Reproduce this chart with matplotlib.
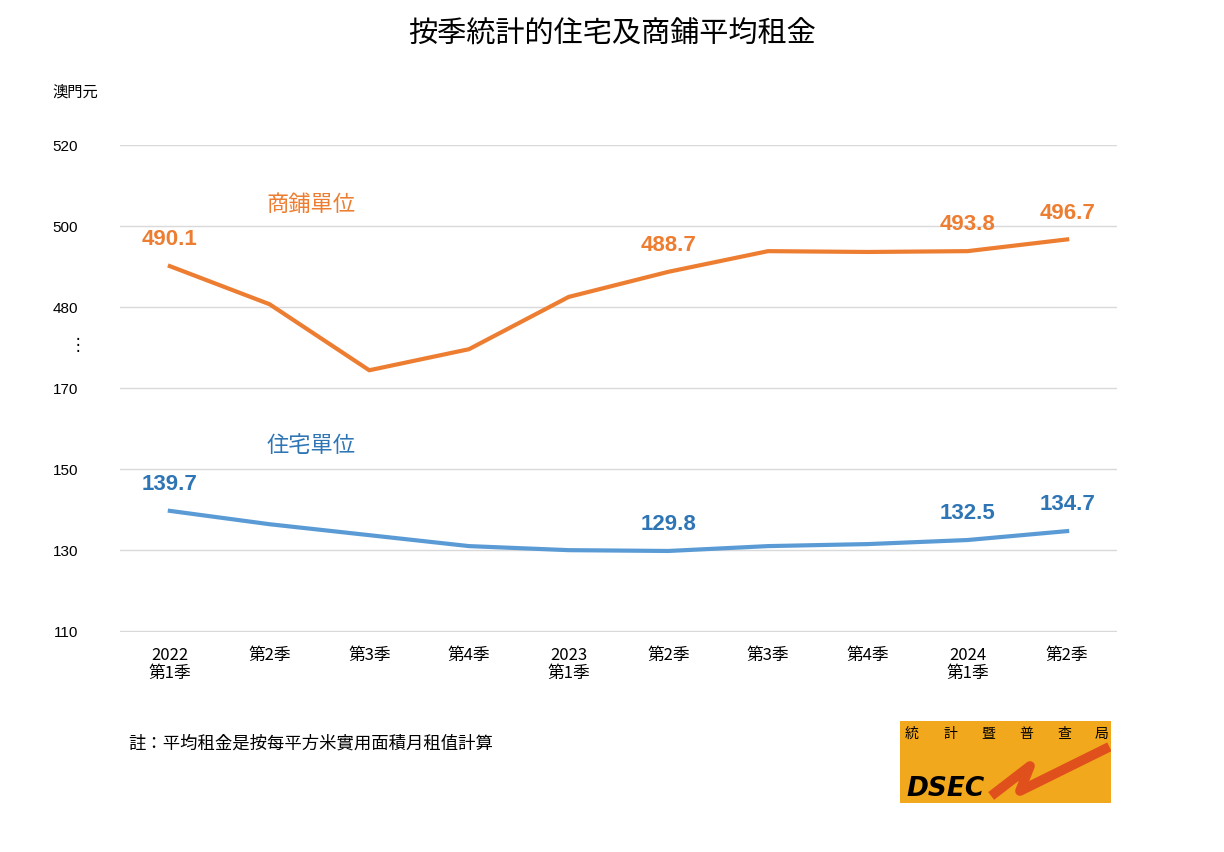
import matplotlib
matplotlib.use("Agg")
import matplotlib.pyplot as plt
from matplotlib.patches import Rectangle
from matplotlib import font_manager as fm

names = {f.name for f in fm.fontManager.ttflist}
cjk = next((n for n in ["Noto Sans CJK TC", "Noto Sans CJK SC", "Noto Sans CJK JP", "Noto Sans CJK KR"] if n in names), "DejaVu Sans")
plt.rcParams["font.family"] = [cjk, "DejaVu Sans"]

categories = ["2022\n第1季", "第2季", "第3季", "第4季", "2023\n第1季", "第2季", "第3季", "第4季", "2024\n第1季", "第2季"]
shop = [490.1, 480.7, 464.4, 469.6, 482.5, 488.7, 493.8, 493.6, 493.8, 496.7]
resi = [139.7, 136.4, 133.7, 131.0, 130.0, 129.8, 131.0, 131.5, 132.5, 134.7]
shop_labels = {0: "490.1", 5: "488.7", 8: "493.8", 9: "496.7"}
resi_labels = {0: "139.7", 5: "129.8", 8: "132.5", 9: "134.7"}
tick_pos = [110, 130, 150, 170, 190, 210, 230]
tick_txt = ["110", "130", "150", "170", "480", "500", "520"]
OFFSET = 290  # shop values drawn on compressed (broken) scale

ORANGE = "#ED7D31"
BLUE = "#5B9BD5"
BLUE_T = "#2E75B6"

fig = plt.figure(figsize=(12.24, 8.52), dpi=100)
ax = fig.add_axes([120/1224, 1-632/852, 997/1224, 487/852])
x = list(range(len(categories)))
ax.plot(x, [v - OFFSET for v in shop], color=ORANGE, lw=3)
ax.plot(x, resi, color=BLUE, lw=3)
for i, t in shop_labels.items():
    ax.text(i, shop[i] - OFFSET + 6.5, t, color=ORANGE, ha="center", va="center", fontsize=16, fontweight="bold", family="Liberation Sans")
for i, t in resi_labels.items():
    ax.text(i, resi[i] + 6.5, t, color=BLUE_T, ha="center", va="center", fontsize=16, fontweight="bold", family="Liberation Sans")
ax.text(0.97, 215.4, "商鋪單位", color=ORANGE, fontsize=16, va="center")
ax.text(0.97, 155.9, "住宅單位", color=BLUE_T, fontsize=16, va="center")

ax.set_xlim(-0.5, 9.5)
ax.set_ylim(109.8, 230)
ax.set_yticks(tick_pos)
ax.set_yticklabels(tick_txt, fontsize=11, family="Liberation Sans")
ax.tick_params(axis="y", length=0, pad=30)
ax.set_xticks(x)
ax.set_xticklabels(categories, fontsize=12, linespacing=1.05)
ax.tick_params(axis="x", length=0, pad=11)
ax.grid(axis="y", color="#D9D9D9", lw=1)
for s in ax.spines.values():
    s.set_visible(False)
ax.set_axisbelow(True)

fig.text(78/1224, 1-345/852, "⋮", fontsize=12, ha="center", va="center", family="DejaVu Sans")
fig.text(75/1224, 1-92/852, "澳門元", fontsize=11, ha="center", va="center")
fig.text(612/1224, 1-35/852, "按季統計的住宅及商鋪平均租金", fontsize=21, ha="center", va="center")
fig.text(128/1224, 1-744/852, "註：平均租金是按每平方米實用面積月租值計算", fontsize=12.5, va="center")

lax = fig.add_axes([900/1224, 1-803/852, 211/1224, 82/852])
lax.set_xlim(0, 211); lax.set_ylim(82, 0); lax.axis("off")
lax.add_patch(Rectangle((0, 0), 211, 82, color="#F2A81D"))
for i, ch in enumerate("統計暨普查局"):
    lax.text(12 + i*38, 13, ch, fontsize=10, ha="center", va="center")
lax.plot([95, 130, 120, 205], [72, 45, 70, 28], color="#E0501C", lw=7)
lax.text(6, 68, "DSEC", fontsize=19, fontweight="bold", style="italic", va="center", family="DejaVu Sans")

fig.savefig("out.png", dpi=100)
